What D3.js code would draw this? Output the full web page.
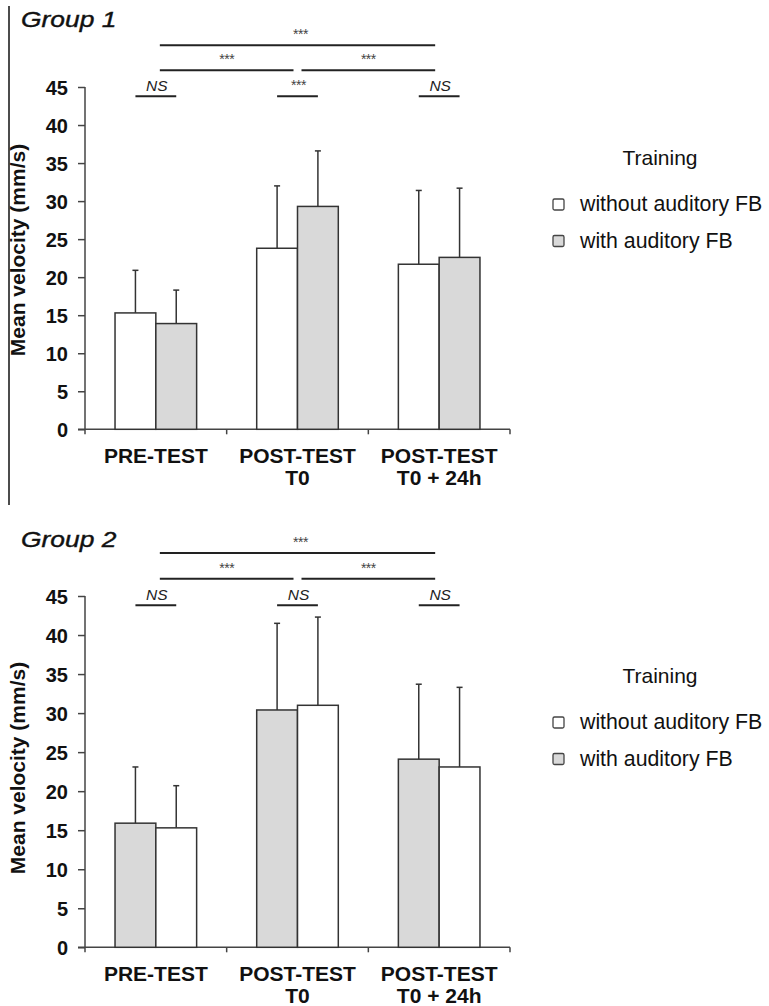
<!DOCTYPE html>
<html><head><meta charset="utf-8">
<script src="https://cdn.jsdelivr.net/npm/d3@7/dist/d3.min.js"></script>
<style>
html,body{margin:0;padding:0;background:#fff;}
svg{display:block;font-family:"Liberation Sans",Arial,sans-serif;}
</style></head>
<body>
<svg id="chart" width="769" height="1006"></svg>
<script>
// ---- data ----
const categories = [["PRE-TEST"], ["POST-TEST", "T0"], ["POST-TEST", "T0 + 24h"]];
const yTicks = [0, 5, 10, 15, 20, 25, 30, 35, 40, 45];
const seriesNames = ["without auditory FB", "with auditory FB"];

// Group 1 (white = without, gray = with); bar order: without, with
const g1Without = [15.3, 23.8, 21.7];
const g1WithoutSD = [5.6, 8.2, 9.7];
const g1With = [13.9, 29.3, 22.6];
const g1WithSD = [4.4, 7.3, 9.1];
const g1PairSig = ["NS", "***", "NS"];
const g1MidSig = ["***", "***"];
const g1TopSig = "***";

// Group 2; bar order: with (gray), without (white)
const g2With = [15.9, 30.4, 24.1];
const g2WithSD = [7.2, 11.1, 9.6];
const g2Without = [15.3, 31.0, 23.1];
const g2WithoutSD = [5.4, 11.3, 10.2];
const g2PairSig = ["NS", "NS", "NS"];
const g2MidSig = ["***", "***"];
const g2TopSig = "***";

// significance bracket levels (in data units)
const sigLevels = {pair: 43.8, mid: 47.2, top: 50.5};

const colors = {"without auditory FB": "#ffffff", "with auditory FB": "#d9d9d9"};
const stroke = "#333";
const textColor = "#111";

const svg = d3.select("#chart");

// left border line
svg.append("line").attr("x1", 9).attr("x2", 9).attr("y1", 6).attr("y2", 505)
  .attr("stroke", "#111").attr("stroke-width", 1.5);

function drawPanel(opt) {
  const g = svg.append("g");
  const x = d3.scaleBand().domain(d3.range(categories.length)).range([85, 510]).padding(0);
  const y = d3.scaleLinear().domain([0, 45]).range([opt.y0, opt.y45]);
  const bw = x.bandwidth() * 0.288;

  // title
  g.append("text").attr("transform", `translate(21,${opt.titleY}) scale(1.2,1)`).text(opt.title)
    .attr("font-size", 22).attr("font-style", "italic").attr("fill", textColor)
    .attr("stroke", textColor).attr("stroke-width", 0.4);

  // y axis
  const ya = g.append("g").attr("transform", "translate(85,0)")
    .call(d3.axisLeft(y).tickValues(yTicks).tickSize(7).tickPadding(10));
  ya.select(".domain").attr("stroke", "#444").attr("stroke-width", 1.5)
    .attr("d", `M0,${y(45)}V${y(0)}`);
  ya.selectAll(".tick line").attr("stroke", "#444").attr("stroke-width", 1.5);
  ya.selectAll(".tick text").attr("font-size", 20).attr("font-weight", "bold")
    .attr("fill", textColor).attr("font-family", "Liberation Sans, Arial, sans-serif").attr("dy", "0.36em");

  // y title
  g.append("text").attr("transform", `translate(25,${opt.yTitleC}) rotate(-90)`)
    .attr("text-anchor", "middle").attr("font-size", 21).attr("font-weight", "bold")
    .attr("fill", textColor).text("Mean velocity (mm/s)");

  // x axis
  g.append("line").attr("x1", 78).attr("x2", 510).attr("y1", y(0)).attr("y2", y(0))
    .attr("stroke", "#444").attr("stroke-width", 1.5);
  const bounds = d3.range(categories.length + 1).map(i => i < categories.length ? x(i) : x(i - 1) + x.bandwidth());
  g.selectAll(".xt").data(bounds).join("line")
    .attr("x1", d => d).attr("x2", d => d).attr("y1", y(0)).attr("y2", y(0) + 5)
    .attr("stroke", "#444").attr("stroke-width", 1.5);

  // x labels
  categories.forEach((lines, i) => {
    const t = g.append("text").attr("text-anchor", "middle").attr("font-size", 21)
      .attr("font-weight", "bold").attr("fill", textColor);
    lines.forEach((l, j) => {
      t.append("tspan").attr("x", x(i) + x.bandwidth() / 2).attr("y", y(0) + 33.5 + j * 22.5).text(l);
    });
  });

  // bars
  const series = opt.series;
  series.forEach((s, si) => {
    s.values.forEach((v, i) => {
      const cx = x(i) + x.bandwidth() / 2;
      const bx = cx - bw + si * bw;
      const top = s.values[i] + s.sd[i];
      const mx = bx + bw / 2;
      g.append("line").attr("x1", mx).attr("x2", mx).attr("y1", y(v)).attr("y2", y(top))
        .attr("stroke", stroke).attr("stroke-width", 1.5);
      g.append("line").attr("x1", mx - 3).attr("x2", mx + 3).attr("y1", y(top)).attr("y2", y(top))
        .attr("stroke", stroke).attr("stroke-width", 1.5);
      g.append("rect").attr("x", bx).attr("y", y(v)).attr("width", bw).attr("height", y(0) - y(v))
        .attr("fill", colors[s.name]).attr("stroke", stroke).attr("stroke-width", 1.5);
    });
  });

  // significance
  const cc = i => x(i) + x.bandwidth() / 2;
  const sigLine = (x1, x2, yy) => g.append("line").attr("x1", x1).attr("x2", x2)
    .attr("y1", yy).attr("y2", yy).attr("stroke", "#222").attr("stroke-width", 2);
  const sigText = (label, xc, yy) => {
    if (label === "NS") {
      g.append("text").attr("x", xc).attr("y", yy - 5).attr("text-anchor", "middle")
        .attr("font-size", 15.5).attr("font-style", "italic").attr("fill", "#222").text(label);
    } else {
      g.append("text").attr("x", xc).attr("y", yy - 6).attr("text-anchor", "middle")
        .attr("font-size", 14).attr("fill", "#444").attr("letter-spacing", -0.5).text(label);
    }
  };
  opt.pairSig.forEach((lab, i) => {
    const x1 = cc(i) - bw / 2, x2 = cc(i) + bw / 2, yy = y(sigLevels.pair);
    sigLine(x1, x2, yy);
    sigText(lab, cc(i) + 1, yy);
  });
  opt.midSig.forEach((lab, i) => {
    const x1 = cc(i) + 4, x2 = cc(i + 1) - 4, yy = y(sigLevels.mid);
    sigLine(x1, x2, yy);
    sigText(lab, (x1 + x2) / 2, yy);
  });
  {
    const x1 = cc(0) + 4, x2 = cc(2) - 4, yy = y(sigLevels.top);
    sigLine(x1, x2, yy);
    sigText(opt.topSig, (x1 + x2) / 2 + 3, yy);
  }

  // legend
  const lg = g.append("g");
  lg.append("text").attr("x", 660).attr("y", opt.legY).attr("text-anchor", "middle")
    .attr("font-size", 21).attr("fill", textColor).text("Training");
  seriesNames.forEach((n, i) => {
    const by = opt.legY + 46 + i * 36.5;
    lg.append("rect").attr("x", 553).attr("y", by - 12).attr("width", 11).attr("height", 11)
      .attr("rx", 1.5).attr("fill", colors[n]).attr("stroke", "#444").attr("stroke-width", 1.3);
    lg.append("text").attr("x", 580).attr("y", by).attr("font-size", 21.3)
      .attr("fill", textColor).text(n);
  });
}

drawPanel({
  title: "Group 1", titleY: 27, y0: 429.3, y45: 87, yTitleC: 250, legY: 165,
  series: [
    {name: "without auditory FB", values: g1Without, sd: g1WithoutSD},
    {name: "with auditory FB", values: g1With, sd: g1WithSD}
  ],
  pairSig: g1PairSig, midSig: g1MidSig, topSig: g1TopSig
});

drawPanel({
  title: "Group 2", titleY: 547, y0: 947.3, y45: 596, yTitleC: 768, legY: 683,
  series: [
    {name: "with auditory FB", values: g2With, sd: g2WithSD},
    {name: "without auditory FB", values: g2Without, sd: g2WithoutSD}
  ],
  pairSig: g2PairSig, midSig: g2MidSig, topSig: g2TopSig
});
</script>
</body></html>
